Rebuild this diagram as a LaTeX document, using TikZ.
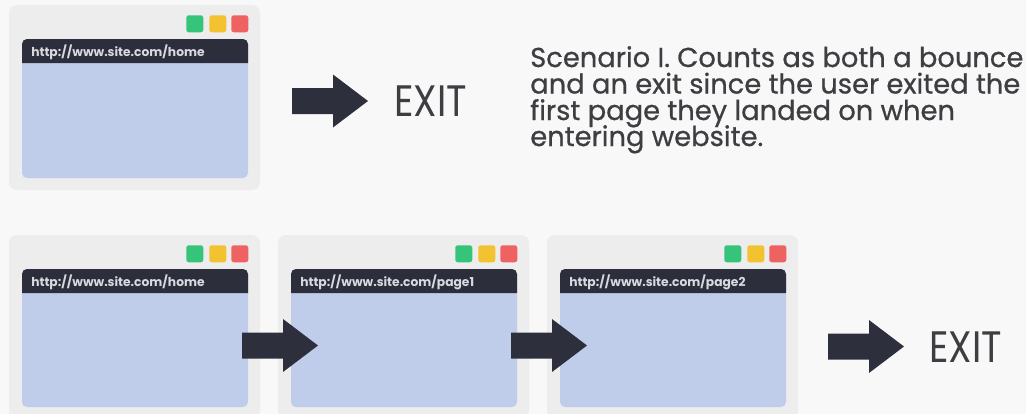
\documentclass[tikz,border=0pt]{standalone}
\usepackage{fontspec}
\setmainfont{Poppins}
\newfontfamily\descfont{Poppins}[FakeBold=0.7]
\newlength\pxu \setlength\pxu{0.75pt}
\definecolor{bgc}{HTML}{F8F8F8}
\definecolor{framec}{HTML}{EDEDED}
\definecolor{barc}{HTML}{2C2F3B}
\definecolor{pagec}{HTML}{BFCCEA}
\definecolor{greenc}{HTML}{35C47A}
\definecolor{yellowc}{HTML}{F2C230}
\definecolor{redc}{HTML}{EF6262}
\definecolor{arrowc}{HTML}{2D303C}
\definecolor{textc}{HTML}{3E3E42}
\definecolor{urlc}{HTML}{D8DAE0}
\tikzset{
  frame/.style={fill=framec, rounded corners=8\pxu, inner sep=0pt, outer sep=0pt},
  pagebox/.style={fill=pagec, rounded corners=5\pxu},
  barbox/.style={fill=barc},
  dot/.style={rounded corners=2.5\pxu, inner sep=0pt, minimum width=17\pxu, minimum height=17\pxu, anchor=north west},
  urltext/.style={text=urlc, font=\bfseries\fontsize{9.2}{10}\selectfont, anchor=base west, inner sep=0pt},
  exittext/.style={text=textc, font=\fontsize{33}{36}\selectfont, inner sep=0pt, anchor=west},
  desctext/.style={text=textc, font=\descfont\fontsize{20.5}{22}\selectfont, inner sep=0pt, anchor=base west},
  blockarrow/.style={fill=arrowc},
}
% #1 name, #2 x, #3 y (top), #4 height, #5 url
\newcommand\browserwin[5]{%
  \node[frame, anchor=north west, minimum width=251\pxu, minimum height=#4\pxu] (#1) at (#2,#3) {};
  \fill[pagebox] (#2+13,#3+34) rectangle (#2+239,#3+#4-12);
  \fill[barbox] (#2+13,#3+58) [rounded corners=5\pxu] -- (#2+13,#3+34) -- (#2+239,#3+34) [sharp corners] -- (#2+239,#3+58) -- cycle;
  \node[dot, fill=greenc] (#1-g) at (#2+177,#3+10) {};
  \node[dot, fill=yellowc] (#1-y) at (#2+200,#3+10) {};
  \node[dot, fill=redc] (#1-r) at (#2+222,#3+10) {};
  \node[urltext] (#1-url) at (#2+22,#3+51) {#5};
}
% block arrow from named coordinate #1 (tail centre)
\newcommand\blockarr[1]{%
  \fill[blockarrow] ([yshift=13.5\pxu]#1) -- ++(41,0) -- ++(0,-13.5) -- ++(35,26.5) -- ++(-35,26.5) -- ++(0,-13.5) -- ++(-41,0) -- cycle;
}
\begin{document}
\begin{tikzpicture}[x=0.75pt,y=-0.75pt]
\useasboundingbox[fill=bgc] (0,0) rectangle (1026,414);
\browserwin{w0}{9}{5}{185}{http://www.site.com/home}
\browserwin{w1}{9}{235}{184}{http://www.site.com/home}
\browserwin{w2}{278}{235}{184}{http://www.site.com/page1}
\browserwin{w3}{547}{235}{184}{http://www.site.com/page2}

\coordinate (a0) at (292,101.5);
\coordinate (a1) at (242,346);
\coordinate (a2) at (511,346);
\coordinate (a3) at (828,347);
\blockarr{a0}
\blockarr{a1}
\blockarr{a2}
\blockarr{a3}

\node[exittext] (exit0) at (394,101) {\scalebox{0.86}[1]{EXIT}};
\node[exittext] (exit1) at (929,347) {\scalebox{0.86}[1]{EXIT}};

\node[desctext] (desc1) at (530,67) {Scenario I. Counts as both a bounce};
\node[desctext] (desc2) at (530,93.5) {and an exit since the user exited the};
\node[desctext] (desc3) at (530,120) {first page they landed on when};
\node[desctext] (desc4) at (530,146) {entering website.};
\end{tikzpicture}
\end{document}
